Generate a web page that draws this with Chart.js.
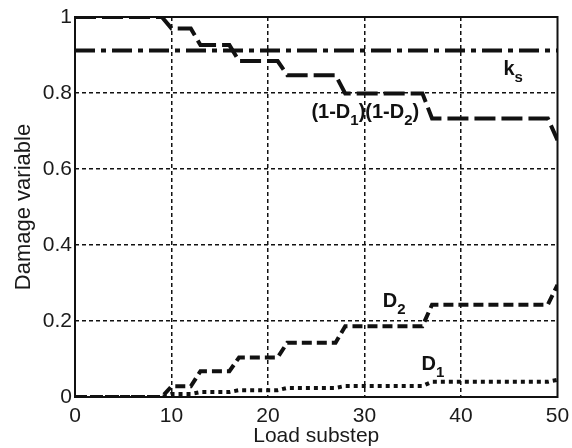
<!DOCTYPE html>
<html>
<head>
<meta charset="utf-8">
<script src="https://cdn.jsdelivr.net/npm/chart.js@4/dist/chart.umd.min.js"></script>
<style>
  html, body { margin: 0; padding: 0; background: #fff; }
  #wrap { width: 572px; height: 448px; }
</style>
</head>
<body>
<div id="wrap"><canvas id="damage"></canvas></div>
<script>
// load substeps where the curves change slope
var substeps = [0, 9, 10, 12, 13, 16, 17, 21, 22, 27, 28, 36, 37, 49, 50];

var product = [1, 1, 0.97, 0.97, 0.926, 0.926, 0.884, 0.884, 0.847, 0.847, 0.799, 0.799, 0.733, 0.733, 0.676];
var d2 = [0, 0, 0.028, 0.028, 0.068, 0.068, 0.104, 0.104, 0.143, 0.143, 0.186, 0.186, 0.243, 0.243, 0.295];
var d1 = [0, 0, 0.008, 0.008, 0.013, 0.013, 0.018, 0.018, 0.024, 0.024, 0.029, 0.029, 0.04, 0.04, 0.045];
var ksX = [0, 50];
var ks = [0.912, 0.912];

var xTicks = [0, 10, 20, 30, 40, 50];
var yTicks = [0, 0.2, 0.4, 0.6, 0.8, 1];

// curve labels: [x, y, parts]
var labels = [
    [44.4, 0.847, [['k', 0], ['s', 1]]],
    [24.5, 0.733, [['(1-D', 0], ['1', 1], [')(1-D', 0], ['2', 1], [')', 0]]],
    [31.9, 0.237, [['D', 0], ['2', 1]]],
    [35.9, 0.072, [['D', 0], ['1', 1]]]
];

function pts(xs, ys) {
    return xs.map(function (x, i) { return { x: x, y: ys[i] }; });
}

var FONT = '"Liberation Sans", Arial, Helvetica, sans-serif';

var frameAndLabels = {
    id: 'frameAndLabels',
    afterDatasetsDraw: function (chart) {
        var ctx = chart.ctx;
        var a = chart.chartArea;
        var xs = chart.scales.x, ys = chart.scales.y;
        ctx.save();
        ctx.fillStyle = '#111';
        ctx.textBaseline = 'alphabetic';
        labels.forEach(function (l) {
            var px = xs.getPixelForValue(l[0]);
            var py = ys.getPixelForValue(l[1]);
            l[2].forEach(function (p) {
                if (p[1]) {
                    ctx.font = 'bold 15px ' + FONT;
                    ctx.fillText(p[0], px, py + 7);
                } else {
                    ctx.font = 'bold 20px ' + FONT;
                    ctx.fillText(p[0], px, py);
                }
                px += ctx.measureText(p[0]).width;
            });
        });
        ctx.strokeStyle = '#111';
        ctx.lineWidth = 2;
        ctx.setLineDash([]);
        ctx.strokeRect(a.left, a.top, a.right - a.left, a.bottom - a.top);
        ctx.restore();
    }
};

var ctx = document.getElementById('damage').getContext('2d');
var myChart = new Chart(ctx, {
    type: 'line',
    data: {
        datasets: [{
            label: 'ks',
            data: pts(ksX, ks),
            borderColor: '#111',
            borderWidth: 4,
            borderDash: [20, 6, 5, 6]
        }, {
            label: '(1-D1)(1-D2)',
            data: pts(substeps, product),
            borderColor: '#111',
            borderWidth: 4,
            borderDash: [21, 6]
        }, {
            label: 'D2',
            data: pts(substeps, d2),
            borderColor: '#111',
            borderWidth: 4,
            borderDash: [10, 5]
        }, {
            label: 'D1',
            data: pts(substeps, d1),
            borderColor: '#111',
            borderWidth: 4,
            borderDash: [4, 4]
        }]
    },
    options: {
        responsive: true,
        maintainAspectRatio: false,
        animation: false,
        layout: { padding: { left: 0, right: 14.5, top: 17, bottom: 0 } },
        elements: { point: { radius: 0 }, line: { tension: 0, borderCapStyle: 'butt' } },
        plugins: { legend: { display: false }, tooltip: { enabled: false } },
        scales: {
            x: {
                type: 'linear',
                min: 0,
                max: 50,
                afterBuildTicks: function (s) { s.ticks = xTicks.map(function (v) { return { value: v }; }); },
                afterFit: function (s) { s.height = 51; s.paddingRight = 0; s.paddingLeft = 0; },
                ticks: {
                    color: '#1a1a1a', font: { family: FONT, size: 21 }, padding: 7, maxRotation: 0,
                    callback: function (v) { return String(v); }
                },
                grid: {
                    drawTicks: false,
                    lineWidth: 1.5,
                    color: function (c) { return (c.tick && (c.tick.value === 0 || c.tick.value === 50)) ? 'rgba(0,0,0,0)' : '#111'; }
                },
                border: { display: false, dash: [4, 3] },
                title: { display: true, text: 'Load substep', color: '#1a1a1a', font: { family: FONT, size: 21, lineHeight: 1 }, padding: 1 }
            },
            y: {
                min: 0,
                max: 1,
                afterBuildTicks: function (s) { s.ticks = yTicks.map(function (v) { return { value: v }; }); },
                afterFit: function (s) { s.width = 75; s.paddingTop = 0; s.paddingBottom = 0; },
                ticks: {
                    color: '#1a1a1a', font: { family: FONT, size: 21 }, padding: 3,
                    callback: function (v) { return String(Math.round(v * 10) / 10); }
                },
                grid: {
                    drawTicks: false,
                    lineWidth: 1.5,
                    color: function (c) { return (c.tick && (c.tick.value === 0 || c.tick.value === 1)) ? 'rgba(0,0,0,0)' : '#111'; }
                },
                border: { display: false, dash: [4, 3] },
                title: { display: true, text: 'Damage variable', color: '#1a1a1a', font: { family: FONT, size: 22 }, padding: { top: 11, bottom: 0 } }
            }
        }
    },
    plugins: [frameAndLabels]
});
</script>
</body>
</html>
